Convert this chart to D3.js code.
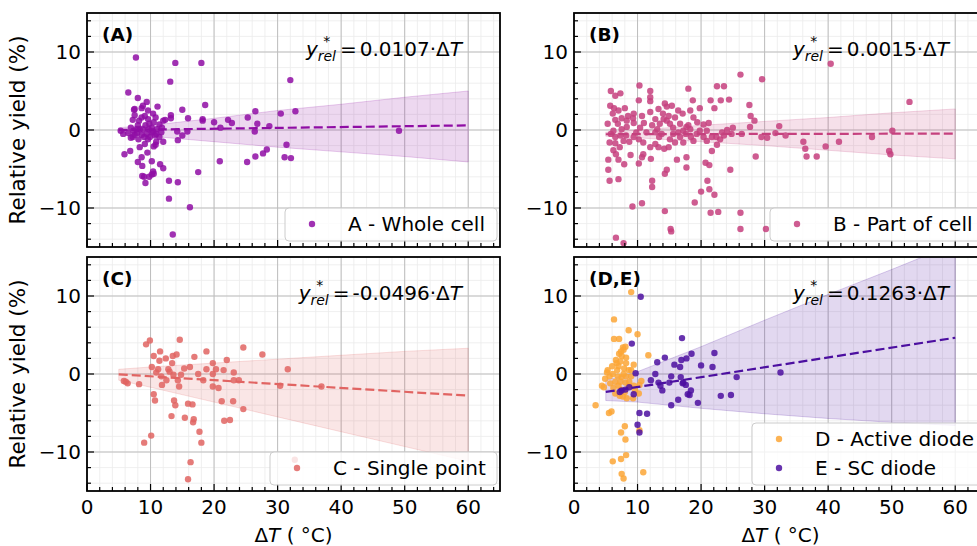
<!DOCTYPE html>
<html>
<head>
<meta charset="utf-8">
<script src="https://cdn.jsdelivr.net/npm/d3@7"></script>
<style>
  body { margin: 0; background: #fff; }
  text { font-family: "DejaVu Sans", sans-serif; }
</style>
</head>
<body>
<svg width="977" height="546"></svg>
<script>
// ---- data ----
var ptsA = [[7.7,9.3],[13.9,8.6],[18.0,8.6],[32.0,6.4],[13.1,6.2],[6.5,4.8],[8.0,4.1],[18.6,3.2],[9.4,3.6],[11.1,3.0],
  [8.6,2.8],[15.0,2.6],[26.5,2.4],[32.8,2.4],[30.5,2.1],[7.5,1.9],[13.2,1.9],[25.3,1.6],[15.9,1.5],[18.2,1.4],
  [18.2,1.2],[22.2,1.3],[22.8,0.9],[20.0,1.0],[26.8,0.8],[28.7,0.5],[21.0,0.3],[12.3,1.3],[13.2,1.5],[26.4,-0.2],
  [49.1,-0.1],[14.2,-0.2],[15.0,-0.7],[14.3,-1.3],[15.8,-0.2],[12.0,-1.5],[31.4,-1.9],[28.3,-2.5],[27.7,-3.0],[26.5,-3.4],
  [31.1,-3.5],[32.1,-3.6],[25.2,-4.1],[20.9,-4.0],[11.5,-4.4],[12.0,-4.9],[17.5,-5.4],[12.9,-6.5],[14.3,-6.7],[12.9,-8.8],
  [16.2,-9.9],[13.5,-13.4],[5.7,-0.5],[5.3,-0.1],[5.9,-3.1],[6.8,-2.7],[8.0,-4.1],[8.7,-4.6],[8.7,-5.9],[9.0,-6.0],
  [9.2,-6.8],[9.8,-6.0],[10.2,-5.7],[10.4,-5.3],[10.5,-5.6],[10.2,-4.0],[8.6,-3.5],[8.3,-2.2],[9.1,-1.8],[9.5,-2.9],
  [10.5,-2.1],[10.8,-1.9],[10.9,-1.5],[7.3,-0.1],[7.2,-0.9],[7.5,-0.6],[7.9,-0.4],[8.3,0.1],[8.0,0.6],[8.2,1.2],
  [8.6,1.6],[9.1,1.8],[9.6,1.4],[9.8,0.8],[10.2,0.3],[10.4,-0.2],[10.7,-0.7],[11.0,0.1],[11.4,0.7],[11.8,0.3],
  [12.0,1.2],[9.4,-0.5],[9.0,-0.9],[8.6,-0.6],[9.9,-0.9],[7.4,2.6],[7.2,1.3],[6.9,0.3],[6.5,-0.4],[6.9,-1.0],
  [10.4,2.1],[10.8,1.6],[10.5,1.0],[9.6,2.5],[8.8,3.1],[11.7,-0.3],[11.4,-0.9],[10.2,-0.3],[9.7,0.1],[9.2,0.6],
  [8.8,0.1],[7.8,0.1],[8.1,-1.2],[9.6,-1.2],[10.9,-0.5],[7.5,2.7]];

var ptsB = [[40.4,8.5],[26.2,7.1],[29.6,6.5],[52.8,3.6],[5.8,5.0],[6.5,4.4],[7.3,4.7],[10.3,5.7],[12.0,5.0],[12.0,4.2],
  [12.0,3.7],[18.0,5.3],[22.5,5.6],[23.6,5.6],[24.4,3.9],[23.1,3.8],[21.5,3.8],[18.7,3.8],[27.6,3.2],[27.8,1.8],
  [28.4,1.2],[27.7,0.4],[22.1,2.8],[19.8,2.8],[18.3,2.5],[5.7,3.1],[6.3,2.8],[7.0,2.5],[8.0,2.8],[8.5,1.8],
  [9.3,1.5],[10.2,3.8],[10.7,1.8],[11.0,0.9],[9.4,0.9],[8.3,0.4],[5.3,0.8],[6.5,1.3],[7.5,1.5],[12.0,2.3],
  [13.3,2.7],[14.3,3.4],[14.6,3.0],[15.4,3.1],[14.0,2.1],[14.9,1.8],[15.9,1.6],[16.7,0.8],[17.7,0.4],[18.8,1.6],
  [19.4,1.0],[20.4,0.7],[21.2,0.9],[12.8,1.4],[12.3,0.6],[13.1,0.1],[14.6,1.2],[15.6,0.3],[16.4,-0.3],[18.0,0.6],
  [18.3,0.1],[17.2,-0.1],[25.0,0.3],[24.1,0.0],[24.8,-0.5],[26.4,-0.5],[32.3,0.5],[31.7,-0.4],[29.5,-0.9],[30.4,-1.0],
  [33.3,-0.7],[50.1,-0.1],[36.1,-1.5],[36.4,-2.4],[36.6,-3.4],[38.2,-3.4],[39.6,-2.1],[41.7,-1.5],[46.9,-0.9],[49.6,-2.7],
  [49.8,-3.1],[28.6,-3.4],[24.6,-5.1],[22.4,-0.9],[23.0,-1.2],[23.6,-0.7],[22.5,-1.9],[21.7,-2.7],[20.4,-0.9],[20.9,-1.4],
  [20.7,-4.2],[21.3,-4.5],[21.0,-6.5],[21.3,-7.6],[22.1,-8.3],[20.0,-7.9],[19.0,-9.3],[21.5,-10.6],[22.7,-10.5],[26.2,-10.6],
  [26.2,-12.7],[30.2,-12.7],[10.7,-9.4],[9.2,-9.8],[14.3,-10.4],[15.2,-12.7],[15.3,-13.0],[6.6,-13.8],[7.8,-14.5],[5.6,-6.5],
  [7.0,-6.3],[5.4,-5.1],[5.4,-3.8],[6.2,-2.6],[6.6,-3.1],[7.0,-3.8],[7.9,-4.4],[8.9,-3.2],[10.2,-4.3],[10.7,-3.5],
  [10.9,-3.1],[12.1,-3.7],[12.3,-6.5],[12.3,-7.3],[14.3,-5.6],[14.6,-5.1],[16.2,-3.8],[17.7,-3.5],[17.7,-4.8],[14.9,-2.2],
  [14.2,-2.4],[13.3,-2.2],[12.0,-2.2],[12.8,-1.8],[10.9,-1.6],[10.2,-1.2],[9.4,-0.9],[8.2,-0.7],[7.3,-0.7],[6.5,-0.9],
  [5.8,-0.5],[6.2,-0.1],[5.6,-1.6],[6.5,-1.7],[7.2,-2.2],[7.8,-1.4],[8.7,-1.5],[9.8,-0.3],[10.4,0.3],[11.4,-0.3],
  [13.8,-0.5],[15.1,-1.2],[15.9,-1.6],[16.7,-0.9],[17.2,-1.6],[18.4,-0.9],[18.8,-1.4],[19.3,-0.5],[19.8,-0.1],[17.6,-0.5],
  [15.6,-0.5],[13.4,-0.9],[12.8,-0.3],[8.3,1.2],[9.4,2.1],[6.1,2.1],[6.9,0.8],[7.5,0.1],[14.1,1.4],[15.1,0.8],
  [13.5,0.8],[16.4,2.5],[17.1,2.1],[20.9,-0.1],[21.7,-0.9],[23.3,-0.3]];

var ptsC = [[9.3,3.8],[9.9,4.3],[14.6,4.4],[24.6,3.4],[27.6,2.5],[11.5,2.9],[10.5,2.3],[12.4,2.0],[11.4,1.7],[13.5,2.3],
  [14.1,2.5],[16.9,2.2],[18.8,2.9],[22.0,1.8],[19.8,1.4],[13.4,1.4],[10.2,0.9],[16.2,0.9],[15.3,0.7],[18.8,0.6],
  [20.3,0.6],[21.5,0.5],[23.1,0.2],[31.6,0.6],[11.2,0.6],[10.9,0.2],[12.8,0.6],[13.0,0.3],[13.6,-0.1],[14.8,-0.1],
  [17.5,0.0],[19.8,0.0],[11.7,-0.3],[12.5,-0.8],[14.3,-0.8],[18.3,-0.8],[23.1,-0.8],[23.9,-0.8],[11.8,-1.4],[8.2,-1.3],
  [6.1,-1.0],[6.4,-1.2],[5.8,-0.9],[14.5,-1.6],[19.8,-1.6],[20.7,-1.8],[30.4,-1.5],[36.9,-1.6],[10.5,-2.6],[10.7,-3.4],
  [13.7,-3.4],[13.9,-4.0],[15.9,-3.8],[16.6,-3.9],[21.2,-3.5],[23.0,-3.5],[24.6,-4.5],[13.3,-5.4],[15.4,-5.6],[16.8,-5.8],
  [16.7,-6.2],[21.6,-6.0],[22.5,-5.9],[17.7,-7.4],[18.0,-8.8],[10.1,-7.9],[9.0,-8.8],[16.3,-11.3],[15.9,-13.5],[32.7,-11.0]];

var ptsD = [[9.0,10.5],[6.3,7.0],[6.3,4.5],[7.1,4.5],[8.6,5.6],[10.0,5.1],[7.7,3.4],[7.8,3.1],[11.7,2.4],[7.1,2.6],
  [7.5,2.3],[8.2,2.1],[9.4,1.2],[6.6,1.8],[7.3,1.6],[6.0,1.0],[7.0,1.0],[7.9,0.7],[8.6,0.5],[5.2,0.2],
  [6.1,0.0],[4.9,-0.6],[5.6,-0.3],[6.9,-0.3],[7.5,-0.4],[8.2,-0.3],[9.0,-0.3],[4.4,-1.5],[4.7,-1.7],[5.7,-1.2],
  [6.5,-1.0],[7.3,-1.0],[8.1,-1.1],[8.7,-1.0],[9.4,-1.5],[10.3,-1.4],[10.6,-0.9],[6.5,-2.5],[7.2,-2.8],[7.7,-2.9],
  [8.3,-3.1],[9.3,-3.1],[6.2,-1.8],[7.4,-2.0],[8.0,-2.3],[7.0,-1.5],[3.4,-4.0],[5.5,-5.0],[5.9,-4.8],[8.0,-6.7],
  [7.4,-7.5],[8.1,-8.4],[10.3,-7.2],[6.1,-11.2],[7.4,-10.9],[8.2,-10.4],[7.5,-12.8],[7.8,-13.4],[10.9,-12.6],[5.3,0.5],
  [6.8,0.5],[7.8,0.0],[8.6,-1.6],[6.7,1.4],[7.4,2.9],[8.1,3.5],[8.2,1.4],[9.0,0.5],[9.6,-2.1],[10.2,-2.5]];

var ptsE = [[10.5,9.9],[17.0,4.6],[9.1,3.9],[22.1,2.7],[18.5,2.6],[14.3,2.1],[17.7,2.0],[16.9,1.8],[13.1,1.5],[15.8,1.2],
  [20.0,1.1],[21.8,0.9],[16.7,0.9],[9.7,0.1],[12.8,0.0],[32.5,0.2],[25.6,-0.4],[15.3,-0.3],[16.8,-0.4],[12.1,-0.8],
  [13.3,-1.1],[15.0,-1.1],[17.2,-1.1],[17.6,-1.4],[13.6,-1.5],[17.1,-1.2],[13.9,-2.1],[18.4,-2.1],[17.9,-2.6],[18.2,-2.7],
  [23.1,-2.8],[24.7,-2.7],[16.4,-3.3],[19.5,-3.7],[15.3,-4.0],[10.3,-5.0],[11.5,-5.1],[10.0,-6.5],[10.3,-7.5],[9.4,-2.6],
  [8.1,-2.0],[8.7,-1.7],[7.5,-2.1],[7.2,-2.3]];

// fitted lines (drawn from dT = 5 to 60) and their confidence bands
var fitSlopes = [0.0107, 0.0015, -0.0496, 0.1263];
var fitIntercepts = [-0.05, -0.55, 0.2, -2.93];
var fitLabels = ["0.0107", "0.0015", "-0.0496", "0.1263"];
var bandX = [5, 10, 20, 30, 40, 50, 60];
var bandHiA = [0.3, 0.6, 1.5, 2.5, 3.3, 4.2, 5.0];
var bandLoA = [-0.3, -0.8, -1.5, -2.2, -2.8, -3.4, -4.1];
var bandHiB = [-0.3, 0.0, 0.6, 1.1, 1.6, 2.2, 2.7];
var bandLoB = [-0.8, -1.0, -1.5, -2.0, -2.6, -3.2, -3.7];
var bandHiC = [0.6, 0.9, 1.4, 1.9, 2.4, 2.9, 3.3];
var bandLoC = [-0.8, -1.7, -3.6, -5.5, -7.4, -9.3, -11.2];
var bandHiDE = [-0.8, 0.3, 3.5, 6.9, 10.2, 13.4, 16.7];
var bandLoDE = [-3.4, -3.6, -4.4, -5.1, -5.7, -6.2, -6.6];

var panelTags = ["(A)", "(B)", "(C)", "(D,E)"];
var xTicks = [0, 10, 20, 30, 40, 50, 60];
var yTicks = [-10, 0, 10];

var colA = "#8f0da4", colB = "#c5407e", colC = "#e16462", colD = "#fca636", colE = "#4c0fa0";

var panels = [
  { col: 0, row: 0, tag: panelTags[0], fit: 0, hi: bandHiA, lo: bandLoA, lineCol: colA,
    series: [{ pts: ptsA, color: colA, name: "A - Whole cell" }] },
  { col: 1, row: 0, tag: panelTags[1], fit: 1, hi: bandHiB, lo: bandLoB, lineCol: colB,
    series: [{ pts: ptsB, color: colB, name: "B - Part of cell" }] },
  { col: 0, row: 1, tag: panelTags[2], fit: 2, hi: bandHiC, lo: bandLoC, lineCol: colC,
    series: [{ pts: ptsC, color: colC, name: "C - Single point" }] },
  { col: 1, row: 1, tag: panelTags[3], fit: 3, hi: bandHiDE, lo: bandLoDE, lineCol: colE,
    series: [{ pts: ptsD, color: colD, name: "D - Active diode" },
             { pts: ptsE, color: colE, name: "E - SC diode" }] }
];

var svg = d3.select("svg");
var colLeft = [87, 574], rowTop = [13, 257];
var pw = 413, ph = 234;

panels.forEach(function (p, i) {
  var x0 = colLeft[p.col], y0 = rowTop[p.row];
  var g = svg.append("g").attr("transform", "translate(" + x0 + "," + y0 + ")");
  var x = d3.scaleLinear().domain([0, 65]).range([0, pw]);
  var y = d3.scaleLinear().domain([-15, 15]).range([ph, 0]);

  g.append("clipPath").attr("id", "clip" + i)
    .append("rect").attr("width", pw).attr("height", ph);

  // grid
  var grid = g.append("g");
  grid.selectAll(".mx").data(d3.range(0, 65, 2)).enter().append("line")
    .attr("x1", x).attr("x2", x).attr("y1", 0).attr("y2", ph)
    .attr("stroke", "#ebebeb").attr("stroke-width", 0.8);
  grid.selectAll(".my").data(d3.range(-14, 15, 2)).enter().append("line")
    .attr("y1", y).attr("y2", y).attr("x1", 0).attr("x2", pw)
    .attr("stroke", "#ebebeb").attr("stroke-width", 0.8);
  grid.selectAll(".gx").data(xTicks).enter().append("line")
    .attr("x1", x).attr("x2", x).attr("y1", 0).attr("y2", ph)
    .attr("stroke", "#bdbdbd").attr("stroke-width", 1);
  grid.selectAll(".gy").data(yTicks).enter().append("line")
    .attr("y1", y).attr("y2", y).attr("x1", 0).attr("x2", pw)
    .attr("stroke", "#bdbdbd").attr("stroke-width", 1);

  var plot = g.append("g").attr("clip-path", "url(#clip" + i + ")");

  // band
  var area = d3.area()
    .x(function (d, k) { return x(bandX[k]); })
    .y0(function (d, k) { return y(p.lo[k]); })
    .y1(function (d, k) { return y(p.hi[k]); });
  plot.append("path").datum(bandX).attr("d", area)
    .attr("fill", p.lineCol).attr("fill-opacity", 0.16)
    .attr("stroke", p.lineCol).attr("stroke-opacity", 0.2).attr("stroke-width", 1);

  // points
  p.series.forEach(function (s) {
    plot.selectAll(null).data(s.pts).enter().append("circle")
      .attr("cx", function (d) { return x(d[0]); })
      .attr("cy", function (d) { return y(d[1]); })
      .attr("r", 3.2)
      .attr("fill", s.color).attr("fill-opacity", 0.85);
  });

  // fit line
  var fx = [5, 60];
  plot.append("line")
    .attr("x1", x(fx[0])).attr("y1", y(fitIntercepts[p.fit] + fitSlopes[p.fit] * fx[0]))
    .attr("x2", x(fx[1])).attr("y2", y(fitIntercepts[p.fit] + fitSlopes[p.fit] * fx[1]))
    .attr("stroke", p.lineCol).attr("stroke-width", 2.2).attr("stroke-dasharray", "9,4");

  // axes: inward ticks
  var ax = g.append("g");
  ax.selectAll(".tx").data(d3.range(0, 65, 2)).enter().append("line")
    .attr("x1", x).attr("x2", x).attr("y1", ph)
    .attr("y2", function (d) { return ph - (d % 10 === 0 ? 7 : 4); })
    .attr("stroke", "#000").attr("stroke-width", 1.2);
  ax.selectAll(".ty").data(d3.range(-14, 15, 2)).enter().append("line")
    .attr("y1", y).attr("y2", y).attr("x1", 0)
    .attr("x2", function (d) { return d % 10 === 0 ? 7 : 4; })
    .attr("stroke", "#000").attr("stroke-width", 1.2);
  g.append("rect").attr("width", pw).attr("height", ph)
    .attr("fill", "none").attr("stroke", "#000").attr("stroke-width", 1.8);

  g.selectAll(".yl").data(yTicks).enter().append("text")
    .attr("x", -6).attr("y", y).attr("dy", "0.36em")
    .attr("text-anchor", "end").style("font-size", "20px")
    .text(function (d) { return d < 0 ? "\u2212" + (-d) : d; });

  if (p.row === 1) {
    g.selectAll(".xl").data(xTicks).enter().append("text")
      .attr("x", x).attr("y", ph + 8).attr("dy", "0.75em")
      .attr("text-anchor", "middle").style("font-size", "20px")
      .text(function (d) { return d; });
    var xl = g.append("text").attr("x", pw / 2).attr("y", ph + 51)
      .attr("text-anchor", "middle").style("font-size", "20px");
    xl.append("tspan").text("\u0394");
    xl.append("tspan").style("font-style", "italic").text("T");
    xl.append("tspan").text(" ( \u00b0C)");
  }
  if (p.col === 0) {
    g.append("text").attr("transform", "translate(-62," + (ph / 2) + ") rotate(-90)")
      .attr("text-anchor", "middle").style("font-size", "21.5px")
      .text("Relative yield (%)");
  }

  // panel tag
  g.append("text").attr("x", 15).attr("y", 28)
    .style("font-size", "18.5px").style("font-weight", "bold").text(p.tag);

  // equation
  var xr = 375, yb = 43;
  var eq = g.append("text").attr("x", xr).attr("y", yb)
    .attr("text-anchor", "end").style("font-size", "20px");
  eq.append("tspan").text("=");
  eq.append("tspan").attr("dx", 3).text(fitLabels[p.fit] + "\u00b7\u0394");
  eq.append("tspan").style("font-style", "italic").text("T");
  var ex = xr - eq.node().getComputedTextLength() - 7;
  var sub = g.append("text").attr("x", ex).attr("y", yb + 5)
    .attr("text-anchor", "end").style("font-size", "14px").style("font-style", "italic").text("rel");
  var sw = sub.node().getComputedTextLength();
  g.append("text").attr("x", ex - sw / 2).attr("y", yb - 10)
    .attr("text-anchor", "middle").style("font-size", "14px").text("*");
  g.append("text").attr("x", ex - sw).attr("y", yb)
    .attr("text-anchor", "end").style("font-size", "20px").style("font-style", "italic").text("y");

  // legend
  var n = p.series.length;
  var lh = n === 1 ? 33 : 62;
  var lw = p.col === 0 ? (p.row === 0 ? 212 : 227) : 240;
  var lx = pw - 3 - lw, ly = ph - 6 - lh;
  if (p.col === 1) lx = p.row === 0 ? 196 : 178;
  var leg = g.append("g").attr("transform", "translate(" + lx + "," + ly + ")");
  leg.append("rect").attr("width", lw).attr("height", lh).attr("rx", 4)
    .attr("fill", "#fff").attr("fill-opacity", 0.8)
    .attr("stroke", "#cccccc").attr("stroke-width", 1);
  p.series.forEach(function (s, k) {
    var cy = 16 + k * 29;
    leg.append("circle").attr("cx", 27).attr("cy", cy).attr("r", 3.2)
      .attr("fill", s.color).attr("fill-opacity", 0.85);
    leg.append("text").attr("x", 63).attr("y", cy).attr("dy", "0.36em")
      .style("font-size", "20px").text(s.name);
  });
});
</script>
</body>
</html>
